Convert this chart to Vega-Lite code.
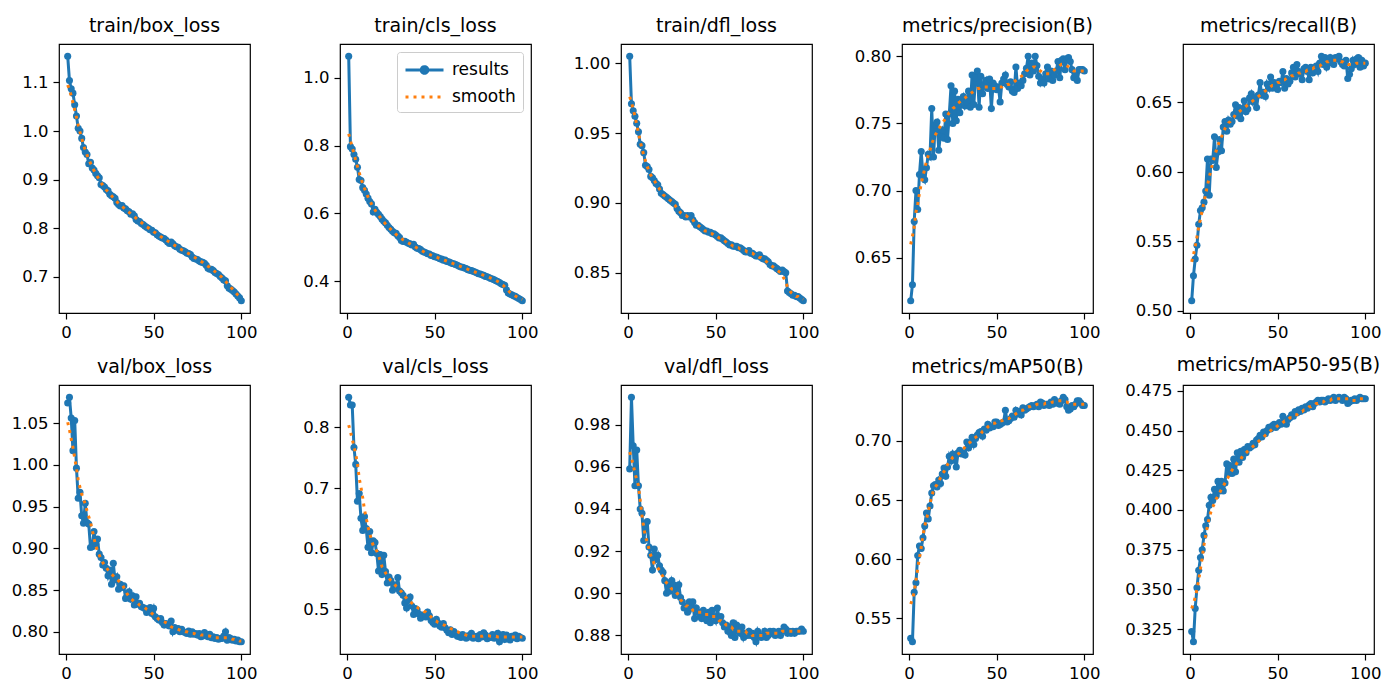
{
"$schema":"https://vega.github.io/schema/vega-lite/v6.json",
"background":"white",
"padding":{"left":10,"top":16,"right":5,"bottom":5},
"columns":5,
"spacing":{"row":72,"column":90},
"bounds":"flush",
"resolve":{"scale":{"color":"independent"},"legend":{"color":"independent"}},
"config":{
 "font":"DejaVu Sans",
 "view":{"stroke":"#000","strokeWidth":1.2},
 "axis":{"domain":false,"grid":false,"labelFont":"DejaVu Sans","labelFontSize":16.5,"labelColor":"#000","tickColor":"#000","tickSize":6,"tickWidth":1.2,"labelPadding":5,"labelFlush":false,"labelOverlap":false},
 "title":{"font":"DejaVu Sans","fontSize":19,"fontWeight":"normal","color":"#000","offset":8},
 "legend":{"labelFont":"DejaVu Sans","labelFontSize":17,"labelColor":"#000"}
},
"datasets":{
"a":[{"x":1,"r":1.154,"s":1.095},{"x":2,"r":1.104,"s":1.085},{"x":3,"r":1.087,"s":1.073},{"x":4,"r":1.078,"s":1.058},{"x":5,"r":1.054,"s":1.043},{"x":6,"r":1.031,"s":1.028},{"x":7,"r":1.006,"s":1.012},{"x":8,"r":1.000,"s":0.998},{"x":9,"r":0.985,"s":0.985},{"x":10,"r":0.966,"s":0.972},
{"x":11,"r":0.957,"s":0.961},{"x":12,"r":0.952,"s":0.951},{"x":13,"r":0.933,"s":0.942},{"x":14,"r":0.936,"s":0.934},{"x":15,"r":0.924,"s":0.926},{"x":16,"r":0.920,"s":0.919},{"x":17,"r":0.913,"s":0.912},{"x":18,"r":0.908,"s":0.906},{"x":19,"r":0.904,"s":0.900},{"x":20,"r":0.890,"s":0.894},
{"x":21,"r":0.888,"s":0.889},{"x":22,"r":0.885,"s":0.884},{"x":23,"r":0.880,"s":0.879},{"x":24,"r":0.877,"s":0.875},{"x":25,"r":0.870,"s":0.871},{"x":26,"r":0.867,"s":0.867},{"x":27,"r":0.865,"s":0.863},{"x":28,"r":0.862,"s":0.859},{"x":29,"r":0.853,"s":0.855},{"x":30,"r":0.849,"s":0.851},
{"x":31,"r":0.846,"s":0.848},{"x":32,"r":0.847,"s":0.845},{"x":33,"r":0.842,"s":0.842},{"x":34,"r":0.840,"s":0.839},{"x":35,"r":0.836,"s":0.836},{"x":36,"r":0.834,"s":0.833},{"x":37,"r":0.829,"s":0.830},{"x":38,"r":0.830,"s":0.827},{"x":39,"r":0.826,"s":0.824},{"x":40,"r":0.818,"s":0.821},
{"x":41,"r":0.815,"s":0.818},{"x":42,"r":0.814,"s":0.815},{"x":43,"r":0.810,"s":0.812},{"x":44,"r":0.808,"s":0.809},{"x":45,"r":0.805,"s":0.806},{"x":46,"r":0.802,"s":0.803},{"x":47,"r":0.800,"s":0.801},{"x":48,"r":0.797,"s":0.798},{"x":49,"r":0.796,"s":0.796},{"x":50,"r":0.792,"s":0.793},
{"x":51,"r":0.791,"s":0.791},{"x":52,"r":0.787,"s":0.788},{"x":53,"r":0.784,"s":0.786},{"x":54,"r":0.782,"s":0.783},{"x":55,"r":0.780,"s":0.781},{"x":56,"r":0.779,"s":0.779},{"x":57,"r":0.776,"s":0.776},{"x":58,"r":0.772,"s":0.774},{"x":59,"r":0.769,"s":0.772},{"x":60,"r":0.772,"s":0.770},
{"x":61,"r":0.768,"s":0.767},{"x":62,"r":0.764,"s":0.765},{"x":63,"r":0.762,"s":0.763},{"x":64,"r":0.761,"s":0.761},{"x":65,"r":0.757,"s":0.758},{"x":66,"r":0.755,"s":0.756},{"x":67,"r":0.754,"s":0.754},{"x":68,"r":0.752,"s":0.752},{"x":69,"r":0.749,"s":0.750},{"x":70,"r":0.748,"s":0.748},
{"x":71,"r":0.746,"s":0.746},{"x":72,"r":0.741,"s":0.743},{"x":73,"r":0.738,"s":0.741},{"x":74,"r":0.737,"s":0.739},{"x":75,"r":0.736,"s":0.737},{"x":76,"r":0.733,"s":0.734},{"x":77,"r":0.731,"s":0.732},{"x":78,"r":0.730,"s":0.730},{"x":79,"r":0.728,"s":0.727},{"x":80,"r":0.724,"s":0.725},
{"x":81,"r":0.718,"s":0.722},{"x":82,"r":0.716,"s":0.720},{"x":83,"r":0.716,"s":0.717},{"x":84,"r":0.713,"s":0.714},{"x":85,"r":0.709,"s":0.711},{"x":86,"r":0.707,"s":0.708},{"x":87,"r":0.705,"s":0.705},{"x":88,"r":0.701,"s":0.702},{"x":89,"r":0.698,"s":0.699},{"x":90,"r":0.694,"s":0.695},
{"x":91,"r":0.692,"s":0.691},{"x":92,"r":0.682,"s":0.687},{"x":93,"r":0.677,"s":0.683},{"x":94,"r":0.675,"s":0.679},{"x":95,"r":0.672,"s":0.675},{"x":96,"r":0.669,"s":0.671},{"x":97,"r":0.665,"s":0.667},{"x":98,"r":0.661,"s":0.663},{"x":99,"r":0.657,"s":0.660},{"x":100,"r":0.651,"s":0.657}],
"b":[{"x":1,"r":1.064,"s":0.835},{"x":2,"r":0.797,"s":0.815},{"x":3,"r":0.790,"s":0.795},{"x":4,"r":0.774,"s":0.776},{"x":5,"r":0.760,"s":0.757},{"x":6,"r":0.736,"s":0.738},{"x":7,"r":0.700,"s":0.720},{"x":8,"r":0.697,"s":0.703},{"x":9,"r":0.676,"s":0.688},{"x":10,"r":0.668,"s":0.674},
{"x":11,"r":0.657,"s":0.661},{"x":12,"r":0.645,"s":0.649},{"x":13,"r":0.635,"s":0.638},{"x":14,"r":0.628,"s":0.628},{"x":15,"r":0.604,"s":0.619},{"x":16,"r":0.612,"s":0.610},{"x":17,"r":0.603,"s":0.602},{"x":18,"r":0.597,"s":0.595},{"x":19,"r":0.591,"s":0.588},{"x":20,"r":0.583,"s":0.581},
{"x":21,"r":0.577,"s":0.575},{"x":22,"r":0.572,"s":0.569},{"x":23,"r":0.565,"s":0.563},{"x":24,"r":0.558,"s":0.558},{"x":25,"r":0.553,"s":0.553},{"x":26,"r":0.547,"s":0.548},{"x":27,"r":0.543,"s":0.543},{"x":28,"r":0.541,"s":0.538},{"x":29,"r":0.534,"s":0.534},{"x":30,"r":0.529,"s":0.530},
{"x":31,"r":0.520,"s":0.526},{"x":32,"r":0.517,"s":0.522},{"x":33,"r":0.518,"s":0.519},{"x":34,"r":0.515,"s":0.516},{"x":35,"r":0.512,"s":0.513},{"x":36,"r":0.510,"s":0.510},{"x":37,"r":0.507,"s":0.507},{"x":38,"r":0.509,"s":0.504},{"x":39,"r":0.501,"s":0.501},{"x":40,"r":0.497,"s":0.498},
{"x":41,"r":0.496,"s":0.495},{"x":42,"r":0.493,"s":0.492},{"x":43,"r":0.488,"s":0.489},{"x":44,"r":0.486,"s":0.486},{"x":45,"r":0.484,"s":0.483},{"x":46,"r":0.481,"s":0.481},{"x":47,"r":0.480,"s":0.479},{"x":48,"r":0.476,"s":0.477},{"x":49,"r":0.475,"s":0.475},{"x":50,"r":0.472,"s":0.473},
{"x":51,"r":0.471,"s":0.471},{"x":52,"r":0.469,"s":0.469},{"x":53,"r":0.466,"s":0.467},{"x":54,"r":0.465,"s":0.465},{"x":55,"r":0.462,"s":0.463},{"x":56,"r":0.462,"s":0.461},{"x":57,"r":0.458,"s":0.459},{"x":58,"r":0.457,"s":0.457},{"x":59,"r":0.455,"s":0.455},{"x":60,"r":0.452,"s":0.453},
{"x":61,"r":0.451,"s":0.451},{"x":62,"r":0.449,"s":0.449},{"x":63,"r":0.447,"s":0.447},{"x":64,"r":0.444,"s":0.445},{"x":65,"r":0.442,"s":0.443},{"x":66,"r":0.441,"s":0.441},{"x":67,"r":0.439,"s":0.439},{"x":68,"r":0.437,"s":0.437},{"x":69,"r":0.434,"s":0.435},{"x":70,"r":0.432,"s":0.433},
{"x":71,"r":0.431,"s":0.431},{"x":72,"r":0.429,"s":0.429},{"x":73,"r":0.427,"s":0.427},{"x":74,"r":0.425,"s":0.425},{"x":75,"r":0.422,"s":0.423},{"x":76,"r":0.421,"s":0.421},{"x":77,"r":0.419,"s":0.419},{"x":78,"r":0.417,"s":0.417},{"x":79,"r":0.414,"s":0.415},{"x":80,"r":0.413,"s":0.413},
{"x":81,"r":0.411,"s":0.411},{"x":82,"r":0.408,"s":0.409},{"x":83,"r":0.406,"s":0.407},{"x":84,"r":0.404,"s":0.404},{"x":85,"r":0.401,"s":0.402},{"x":86,"r":0.399,"s":0.399},{"x":87,"r":0.396,"s":0.396},{"x":88,"r":0.392,"s":0.392},{"x":89,"r":0.390,"s":0.388},{"x":90,"r":0.388,"s":0.383},
{"x":91,"r":0.374,"s":0.377},{"x":92,"r":0.365,"s":0.372},{"x":93,"r":0.362,"s":0.367},{"x":94,"r":0.360,"s":0.363},{"x":95,"r":0.357,"s":0.359},{"x":96,"r":0.355,"s":0.356},{"x":97,"r":0.352,"s":0.353},{"x":98,"r":0.349,"s":0.350},{"x":99,"r":0.346,"s":0.348},{"x":100,"r":0.342,"s":0.346}],
"c":[{"x":1,"r":1.005,"s":0.976},{"x":2,"r":0.971,"s":0.972},{"x":3,"r":0.966,"s":0.967},{"x":4,"r":0.962,"s":0.962},{"x":5,"r":0.957,"s":0.956},{"x":6,"r":0.951,"s":0.950},{"x":7,"r":0.942,"s":0.944},{"x":8,"r":0.941,"s":0.939},{"x":9,"r":0.936,"s":0.934},{"x":10,"r":0.927,"s":0.930},
{"x":11,"r":0.926,"s":0.926},{"x":12,"r":0.924,"s":0.923},{"x":13,"r":0.919,"s":0.920},{"x":14,"r":0.918,"s":0.918},{"x":15,"r":0.916,"s":0.916},{"x":16,"r":0.914,"s":0.914},{"x":17,"r":0.913,"s":0.912},{"x":18,"r":0.910,"s":0.910},{"x":19,"r":0.907,"s":0.908},{"x":20,"r":0.906,"s":0.906},
{"x":21,"r":0.905,"s":0.905},{"x":22,"r":0.904,"s":0.904},{"x":23,"r":0.903,"s":0.903},{"x":24,"r":0.902,"s":0.902},{"x":25,"r":0.901,"s":0.901},{"x":26,"r":0.900,"s":0.899},{"x":27,"r":0.899,"s":0.898},{"x":28,"r":0.896,"s":0.896},{"x":29,"r":0.894,"s":0.895},{"x":30,"r":0.893,"s":0.893},
{"x":31,"r":0.891,"s":0.892},{"x":32,"r":0.891,"s":0.891},{"x":33,"r":0.890,"s":0.891},{"x":34,"r":0.891,"s":0.890},{"x":35,"r":0.890,"s":0.889},{"x":36,"r":0.891,"s":0.889},{"x":37,"r":0.888,"s":0.888},{"x":38,"r":0.886,"s":0.886},{"x":39,"r":0.884,"s":0.885},{"x":40,"r":0.884,"s":0.884},
{"x":41,"r":0.883,"s":0.883},{"x":42,"r":0.882,"s":0.882},{"x":43,"r":0.881,"s":0.881},{"x":44,"r":0.880,"s":0.880},{"x":45,"r":0.880,"s":0.880},{"x":46,"r":0.879,"s":0.879},{"x":47,"r":0.879,"s":0.878},{"x":48,"r":0.878,"s":0.878},{"x":49,"r":0.878,"s":0.877},{"x":50,"r":0.877,"s":0.877},
{"x":51,"r":0.876,"s":0.876},{"x":52,"r":0.875,"s":0.875},{"x":53,"r":0.875,"s":0.875},{"x":54,"r":0.874,"s":0.874},{"x":55,"r":0.873,"s":0.873},{"x":56,"r":0.872,"s":0.872},{"x":57,"r":0.871,"s":0.871},{"x":58,"r":0.870,"s":0.871},{"x":59,"r":0.870,"s":0.870},{"x":60,"r":0.869,"s":0.869},
{"x":61,"r":0.869,"s":0.869},{"x":62,"r":0.869,"s":0.868},{"x":63,"r":0.868,"s":0.868},{"x":64,"r":0.868,"s":0.867},{"x":65,"r":0.867,"s":0.867},{"x":66,"r":0.866,"s":0.866},{"x":67,"r":0.865,"s":0.866},{"x":68,"r":0.865,"s":0.865},{"x":69,"r":0.866,"s":0.865},{"x":70,"r":0.864,"s":0.864},
{"x":71,"r":0.864,"s":0.864},{"x":72,"r":0.863,"s":0.863},{"x":73,"r":0.862,"s":0.862},{"x":74,"r":0.862,"s":0.862},{"x":75,"r":0.863,"s":0.861},{"x":76,"r":0.861,"s":0.861},{"x":77,"r":0.860,"s":0.860},{"x":78,"r":0.860,"s":0.859},{"x":79,"r":0.859,"s":0.858},{"x":80,"r":0.858,"s":0.857},
{"x":81,"r":0.856,"s":0.856},{"x":82,"r":0.855,"s":0.855},{"x":83,"r":0.855,"s":0.854},{"x":84,"r":0.854,"s":0.853},{"x":85,"r":0.853,"s":0.852},{"x":86,"r":0.852,"s":0.851},{"x":87,"r":0.851,"s":0.850},{"x":88,"r":0.852,"s":0.848},{"x":89,"r":0.851,"s":0.846},{"x":90,"r":0.850,"s":0.843},
{"x":91,"r":0.837,"s":0.840},{"x":92,"r":0.836,"s":0.838},{"x":93,"r":0.835,"s":0.836},{"x":94,"r":0.834,"s":0.835},{"x":95,"r":0.834,"s":0.834},{"x":96,"r":0.833,"s":0.833},{"x":97,"r":0.833,"s":0.833},{"x":98,"r":0.832,"s":0.832},{"x":99,"r":0.831,"s":0.832},{"x":100,"r":0.830,"s":0.831}],
"d":[{"x":1,"r":0.618,"s":0.660},{"x":2,"r":0.630,"s":0.666},{"x":3,"r":0.677,"s":0.673},{"x":4,"r":0.700,"s":0.684},{"x":5,"r":0.686,"s":0.690},{"x":6,"r":0.712,"s":0.698},{"x":7,"r":0.729,"s":0.705},{"x":8,"r":0.711,"s":0.711},{"x":9,"r":0.708,"s":0.716},{"x":10,"r":0.717,"s":0.722},
{"x":11,"r":0.727,"s":0.726},{"x":12,"r":0.725,"s":0.730},{"x":13,"r":0.761,"s":0.735},{"x":14,"r":0.725,"s":0.738},{"x":15,"r":0.749,"s":0.741},{"x":16,"r":0.751,"s":0.744},{"x":17,"r":0.730,"s":0.746},{"x":18,"r":0.742,"s":0.748},{"x":19,"r":0.745,"s":0.750},{"x":20,"r":0.739,"s":0.752},
{"x":21,"r":0.757,"s":0.754},{"x":22,"r":0.738,"s":0.756},{"x":23,"r":0.757,"s":0.758},{"x":24,"r":0.778,"s":0.759},{"x":25,"r":0.750,"s":0.761},{"x":26,"r":0.774,"s":0.762},{"x":27,"r":0.752,"s":0.763},{"x":28,"r":0.768,"s":0.765},{"x":29,"r":0.758,"s":0.766},{"x":30,"r":0.767,"s":0.767},
{"x":31,"r":0.770,"s":0.768},{"x":32,"r":0.763,"s":0.769},{"x":33,"r":0.766,"s":0.770},{"x":34,"r":0.774,"s":0.771},{"x":35,"r":0.762,"s":0.772},{"x":36,"r":0.786,"s":0.773},{"x":37,"r":0.764,"s":0.774},{"x":38,"r":0.784,"s":0.775},{"x":39,"r":0.789,"s":0.776},{"x":40,"r":0.762,"s":0.776},
{"x":41,"r":0.785,"s":0.777},{"x":42,"r":0.772,"s":0.777},{"x":43,"r":0.779,"s":0.777},{"x":44,"r":0.782,"s":0.777},{"x":45,"r":0.776,"s":0.777},{"x":46,"r":0.783,"s":0.776},{"x":47,"r":0.761,"s":0.776},{"x":48,"r":0.780,"s":0.776},{"x":49,"r":0.778,"s":0.776},{"x":50,"r":0.775,"s":0.776},
{"x":51,"r":0.777,"s":0.777},{"x":52,"r":0.766,"s":0.777},{"x":53,"r":0.780,"s":0.777},{"x":54,"r":0.783,"s":0.778},{"x":55,"r":0.786,"s":0.778},{"x":56,"r":0.779,"s":0.779},{"x":57,"r":0.777,"s":0.779},{"x":58,"r":0.781,"s":0.780},{"x":59,"r":0.774,"s":0.780},{"x":60,"r":0.773,"s":0.781},
{"x":61,"r":0.792,"s":0.782},{"x":62,"r":0.776,"s":0.783},{"x":63,"r":0.780,"s":0.784},{"x":64,"r":0.778,"s":0.785},{"x":65,"r":0.782,"s":0.786},{"x":66,"r":0.787,"s":0.787},{"x":67,"r":0.791,"s":0.789},{"x":68,"r":0.800,"s":0.790},{"x":69,"r":0.786,"s":0.791},{"x":70,"r":0.795,"s":0.791},
{"x":71,"r":0.789,"s":0.792},{"x":72,"r":0.800,"s":0.792},{"x":73,"r":0.793,"s":0.791},{"x":74,"r":0.785,"s":0.790},{"x":75,"r":0.780,"s":0.789},{"x":76,"r":0.783,"s":0.788},{"x":77,"r":0.780,"s":0.787},{"x":78,"r":0.787,"s":0.787},{"x":79,"r":0.792,"s":0.787},{"x":80,"r":0.783,"s":0.787},
{"x":81,"r":0.789,"s":0.788},{"x":82,"r":0.782,"s":0.789},{"x":83,"r":0.786,"s":0.790},{"x":84,"r":0.789,"s":0.791},{"x":85,"r":0.796,"s":0.792},{"x":86,"r":0.784,"s":0.793},{"x":87,"r":0.797,"s":0.794},{"x":88,"r":0.798,"s":0.794},{"x":89,"r":0.790,"s":0.794},{"x":90,"r":0.798,"s":0.793},
{"x":91,"r":0.799,"s":0.792},{"x":92,"r":0.796,"s":0.791},{"x":93,"r":0.790,"s":0.790},{"x":94,"r":0.784,"s":0.789},{"x":95,"r":0.786,"s":0.789},{"x":96,"r":0.782,"s":0.789},{"x":97,"r":0.790,"s":0.789},{"x":98,"r":0.790,"s":0.789},{"x":99,"r":0.790,"s":0.789},{"x":100,"r":0.789,"s":0.789}],
"e":[{"x":1,"r":0.507,"s":0.535},{"x":2,"r":0.525,"s":0.540},{"x":3,"r":0.537,"s":0.546},{"x":4,"r":0.547,"s":0.553},{"x":5,"r":0.562,"s":0.560},{"x":6,"r":0.572,"s":0.566},{"x":7,"r":0.574,"s":0.572},{"x":8,"r":0.578,"s":0.578},{"x":9,"r":0.586,"s":0.584},{"x":10,"r":0.609,"s":0.590},
{"x":11,"r":0.583,"s":0.596},{"x":12,"r":0.609,"s":0.601},{"x":13,"r":0.608,"s":0.606},{"x":14,"r":0.625,"s":0.611},{"x":15,"r":0.603,"s":0.615},{"x":16,"r":0.614,"s":0.619},{"x":17,"r":0.623,"s":0.622},{"x":18,"r":0.615,"s":0.625},{"x":19,"r":0.632,"s":0.628},{"x":20,"r":0.636,"s":0.631},
{"x":21,"r":0.629,"s":0.633},{"x":22,"r":0.637,"s":0.635},{"x":23,"r":0.634,"s":0.636},{"x":24,"r":0.636,"s":0.638},{"x":25,"r":0.641,"s":0.639},{"x":26,"r":0.648,"s":0.641},{"x":27,"r":0.640,"s":0.642},{"x":28,"r":0.646,"s":0.643},{"x":29,"r":0.638,"s":0.644},{"x":30,"r":0.644,"s":0.645},
{"x":31,"r":0.651,"s":0.646},{"x":32,"r":0.643,"s":0.647},{"x":33,"r":0.645,"s":0.648},{"x":34,"r":0.653,"s":0.649},{"x":35,"r":0.656,"s":0.650},{"x":36,"r":0.650,"s":0.651},{"x":37,"r":0.653,"s":0.652},{"x":38,"r":0.646,"s":0.653},{"x":39,"r":0.655,"s":0.654},{"x":40,"r":0.664,"s":0.655},
{"x":41,"r":0.655,"s":0.656},{"x":42,"r":0.657,"s":0.657},{"x":43,"r":0.654,"s":0.658},{"x":44,"r":0.663,"s":0.659},{"x":45,"r":0.660,"s":0.660},{"x":46,"r":0.668,"s":0.661},{"x":47,"r":0.660,"s":0.662},{"x":48,"r":0.664,"s":0.662},{"x":49,"r":0.661,"s":0.663},{"x":50,"r":0.659,"s":0.664},
{"x":51,"r":0.665,"s":0.664},{"x":52,"r":0.664,"s":0.665},{"x":53,"r":0.672,"s":0.666},{"x":54,"r":0.660,"s":0.666},{"x":55,"r":0.667,"s":0.667},{"x":56,"r":0.663,"s":0.668},{"x":57,"r":0.665,"s":0.668},{"x":58,"r":0.671,"s":0.669},{"x":59,"r":0.675,"s":0.669},{"x":60,"r":0.668,"s":0.670},
{"x":61,"r":0.677,"s":0.670},{"x":62,"r":0.672,"s":0.671},{"x":63,"r":0.670,"s":0.671},{"x":64,"r":0.666,"s":0.672},{"x":65,"r":0.674,"s":0.672},{"x":66,"r":0.675,"s":0.672},{"x":67,"r":0.672,"s":0.673},{"x":68,"r":0.666,"s":0.673},{"x":69,"r":0.675,"s":0.674},{"x":70,"r":0.671,"s":0.674},
{"x":71,"r":0.673,"s":0.675},{"x":72,"r":0.676,"s":0.675},{"x":73,"r":0.672,"s":0.676},{"x":74,"r":0.678,"s":0.676},{"x":75,"r":0.683,"s":0.677},{"x":76,"r":0.677,"s":0.678},{"x":77,"r":0.682,"s":0.678},{"x":78,"r":0.675,"s":0.679},{"x":79,"r":0.678,"s":0.679},{"x":80,"r":0.682,"s":0.680},
{"x":81,"r":0.679,"s":0.680},{"x":82,"r":0.677,"s":0.680},{"x":83,"r":0.682,"s":0.680},{"x":84,"r":0.681,"s":0.680},{"x":85,"r":0.683,"s":0.680},{"x":86,"r":0.679,"s":0.679},{"x":87,"r":0.677,"s":0.679},{"x":88,"r":0.676,"s":0.678},{"x":89,"r":0.680,"s":0.678},{"x":90,"r":0.667,"s":0.677},
{"x":91,"r":0.670,"s":0.677},{"x":92,"r":0.674,"s":0.677},{"x":93,"r":0.680,"s":0.677},{"x":94,"r":0.677,"s":0.677},{"x":95,"r":0.681,"s":0.678},{"x":96,"r":0.682,"s":0.678},{"x":97,"r":0.675,"s":0.678},{"x":98,"r":0.680,"s":0.678},{"x":99,"r":0.676,"s":0.678},{"x":100,"r":0.678,"s":0.678}],
"f":[{"x":1,"r":1.074,"s":1.051},{"x":2,"r":1.081,"s":1.042},{"x":3,"r":1.056,"s":1.031},{"x":4,"r":1.017,"s":1.021},{"x":5,"r":1.053,"s":1.008},{"x":6,"r":0.996,"s":0.996},{"x":7,"r":0.960,"s":0.982},{"x":8,"r":0.967,"s":0.973},{"x":9,"r":0.939,"s":0.965},{"x":10,"r":0.930,"s":0.959},
{"x":11,"r":0.954,"s":0.953},{"x":12,"r":0.931,"s":0.945},{"x":13,"r":0.929,"s":0.938},{"x":14,"r":0.901,"s":0.931},{"x":15,"r":0.902,"s":0.922},{"x":16,"r":0.920,"s":0.912},{"x":17,"r":0.905,"s":0.903},{"x":18,"r":0.911,"s":0.897},{"x":19,"r":0.893,"s":0.892},{"x":20,"r":0.889,"s":0.887},
{"x":21,"r":0.880,"s":0.883},{"x":22,"r":0.883,"s":0.880},{"x":23,"r":0.876,"s":0.877},{"x":24,"r":0.867,"s":0.874},{"x":25,"r":0.874,"s":0.871},{"x":26,"r":0.857,"s":0.869},{"x":27,"r":0.882,"s":0.867},{"x":28,"r":0.862,"s":0.865},{"x":29,"r":0.866,"s":0.863},{"x":30,"r":0.851,"s":0.861},
{"x":31,"r":0.857,"s":0.859},{"x":32,"r":0.853,"s":0.857},{"x":33,"r":0.855,"s":0.853},{"x":34,"r":0.840,"s":0.849},{"x":35,"r":0.843,"s":0.845},{"x":36,"r":0.848,"s":0.842},{"x":37,"r":0.839,"s":0.840},{"x":38,"r":0.843,"s":0.838},{"x":39,"r":0.832,"s":0.836},{"x":40,"r":0.842,"s":0.835},
{"x":41,"r":0.833,"s":0.834},{"x":42,"r":0.834,"s":0.832},{"x":43,"r":0.830,"s":0.831},{"x":44,"r":0.829,"s":0.830},{"x":45,"r":0.828,"s":0.829},{"x":46,"r":0.823,"s":0.827},{"x":47,"r":0.826,"s":0.826},{"x":48,"r":0.829,"s":0.824},{"x":49,"r":0.822,"s":0.822},{"x":50,"r":0.828,"s":0.820},
{"x":51,"r":0.818,"s":0.818},{"x":52,"r":0.816,"s":0.817},{"x":53,"r":0.814,"s":0.815},{"x":54,"r":0.816,"s":0.814},{"x":55,"r":0.811,"s":0.813},{"x":56,"r":0.808,"s":0.812},{"x":57,"r":0.810,"s":0.811},{"x":58,"r":0.808,"s":0.810},{"x":59,"r":0.807,"s":0.808},{"x":60,"r":0.813,"s":0.806},
{"x":61,"r":0.800,"s":0.805},{"x":62,"r":0.805,"s":0.804},{"x":63,"r":0.802,"s":0.804},{"x":64,"r":0.804,"s":0.803},{"x":65,"r":0.800,"s":0.802},{"x":66,"r":0.803,"s":0.801},{"x":67,"r":0.800,"s":0.801},{"x":68,"r":0.799,"s":0.800},{"x":69,"r":0.798,"s":0.800},{"x":70,"r":0.801,"s":0.799},
{"x":71,"r":0.797,"s":0.799},{"x":72,"r":0.800,"s":0.798},{"x":73,"r":0.797,"s":0.798},{"x":74,"r":0.798,"s":0.797},{"x":75,"r":0.796,"s":0.797},{"x":76,"r":0.798,"s":0.797},{"x":77,"r":0.794,"s":0.796},{"x":78,"r":0.795,"s":0.796},{"x":79,"r":0.799,"s":0.796},{"x":80,"r":0.796,"s":0.795},
{"x":81,"r":0.794,"s":0.795},{"x":82,"r":0.797,"s":0.795},{"x":83,"r":0.793,"s":0.794},{"x":84,"r":0.794,"s":0.794},{"x":85,"r":0.792,"s":0.793},{"x":86,"r":0.793,"s":0.793},{"x":87,"r":0.791,"s":0.793},{"x":88,"r":0.792,"s":0.793},{"x":89,"r":0.792,"s":0.793},{"x":90,"r":0.795,"s":0.793},
{"x":91,"r":0.800,"s":0.793},{"x":92,"r":0.790,"s":0.793},{"x":93,"r":0.793,"s":0.792},{"x":94,"r":0.792,"s":0.792},{"x":95,"r":0.790,"s":0.791},{"x":96,"r":0.791,"s":0.791},{"x":97,"r":0.789,"s":0.790},{"x":98,"r":0.790,"s":0.790},{"x":99,"r":0.788,"s":0.789},{"x":100,"r":0.788,"s":0.789}],
"g":[{"x":1,"r":0.850,"s":0.804},{"x":2,"r":0.837,"s":0.793},{"x":3,"r":0.837,"s":0.781},{"x":4,"r":0.767,"s":0.769},{"x":5,"r":0.739,"s":0.756},{"x":6,"r":0.678,"s":0.740},{"x":7,"r":0.691,"s":0.716},{"x":8,"r":0.650,"s":0.701},{"x":9,"r":0.630,"s":0.684},{"x":10,"r":0.653,"s":0.664},
{"x":11,"r":0.633,"s":0.650},{"x":12,"r":0.602,"s":0.636},{"x":13,"r":0.628,"s":0.625},{"x":14,"r":0.593,"s":0.614},{"x":15,"r":0.613,"s":0.605},{"x":16,"r":0.610,"s":0.600},{"x":17,"r":0.592,"s":0.596},{"x":18,"r":0.563,"s":0.589},{"x":19,"r":0.590,"s":0.580},{"x":20,"r":0.557,"s":0.570},
{"x":21,"r":0.589,"s":0.565},{"x":22,"r":0.562,"s":0.560},{"x":23,"r":0.543,"s":0.555},{"x":24,"r":0.553,"s":0.551},{"x":25,"r":0.547,"s":0.547},{"x":26,"r":0.531,"s":0.544},{"x":27,"r":0.540,"s":0.541},{"x":28,"r":0.535,"s":0.538},{"x":29,"r":0.552,"s":0.536},{"x":30,"r":0.530,"s":0.532},
{"x":31,"r":0.527,"s":0.529},{"x":32,"r":0.523,"s":0.525},{"x":33,"r":0.510,"s":0.521},{"x":34,"r":0.502,"s":0.518},{"x":35,"r":0.515,"s":0.514},{"x":36,"r":0.520,"s":0.512},{"x":37,"r":0.505,"s":0.510},{"x":38,"r":0.491,"s":0.507},{"x":39,"r":0.501,"s":0.505},{"x":40,"r":0.499,"s":0.503},
{"x":41,"r":0.492,"s":0.501},{"x":42,"r":0.485,"s":0.500},{"x":43,"r":0.490,"s":0.498},{"x":44,"r":0.488,"s":0.496},{"x":45,"r":0.487,"s":0.495},{"x":46,"r":0.495,"s":0.492},{"x":47,"r":0.489,"s":0.490},{"x":48,"r":0.481,"s":0.487},{"x":49,"r":0.478,"s":0.484},{"x":50,"r":0.475,"s":0.481},
{"x":51,"r":0.483,"s":0.480},{"x":52,"r":0.477,"s":0.478},{"x":53,"r":0.472,"s":0.477},{"x":54,"r":0.470,"s":0.475},{"x":55,"r":0.476,"s":0.474},{"x":56,"r":0.469,"s":0.473},{"x":57,"r":0.465,"s":0.471},{"x":58,"r":0.461,"s":0.470},{"x":59,"r":0.466,"s":0.468},{"x":60,"r":0.458,"s":0.467},
{"x":61,"r":0.463,"s":0.466},{"x":62,"r":0.459,"s":0.464},{"x":63,"r":0.455,"s":0.463},{"x":64,"r":0.457,"s":0.461},{"x":65,"r":0.453,"s":0.460},{"x":66,"r":0.458,"s":0.459},{"x":67,"r":0.455,"s":0.458},{"x":68,"r":0.452,"s":0.457},{"x":69,"r":0.456,"s":0.456},{"x":70,"r":0.454,"s":0.455},
{"x":71,"r":0.460,"s":0.455},{"x":72,"r":0.452,"s":0.455},{"x":73,"r":0.453,"s":0.455},{"x":74,"r":0.455,"s":0.455},{"x":75,"r":0.451,"s":0.455},{"x":76,"r":0.458,"s":0.455},{"x":77,"r":0.454,"s":0.455},{"x":78,"r":0.461,"s":0.456},{"x":79,"r":0.457,"s":0.456},{"x":80,"r":0.451,"s":0.456},
{"x":81,"r":0.454,"s":0.456},{"x":82,"r":0.453,"s":0.455},{"x":83,"r":0.458,"s":0.455},{"x":84,"r":0.452,"s":0.455},{"x":85,"r":0.455,"s":0.455},{"x":86,"r":0.460,"s":0.454},{"x":87,"r":0.446,"s":0.454},{"x":88,"r":0.452,"s":0.454},{"x":89,"r":0.458,"s":0.454},{"x":90,"r":0.450,"s":0.454},
{"x":91,"r":0.457,"s":0.454},{"x":92,"r":0.454,"s":0.454},{"x":93,"r":0.449,"s":0.454},{"x":94,"r":0.455,"s":0.454},{"x":95,"r":0.453,"s":0.454},{"x":96,"r":0.457,"s":0.454},{"x":97,"r":0.451,"s":0.454},{"x":98,"r":0.455,"s":0.454},{"x":99,"r":0.453,"s":0.454},{"x":100,"r":0.452,"s":0.454}],
"h":[{"x":1,"r":0.959,"s":0.967},{"x":2,"r":0.993,"s":0.964},{"x":3,"r":0.970,"s":0.961},{"x":4,"r":0.951,"s":0.957},{"x":5,"r":0.968,"s":0.954},{"x":6,"r":0.951,"s":0.951},{"x":7,"r":0.940,"s":0.944},{"x":8,"r":0.938,"s":0.937},{"x":9,"r":0.925,"s":0.931},{"x":10,"r":0.931,"s":0.927},
{"x":11,"r":0.934,"s":0.924},{"x":12,"r":0.922,"s":0.921},{"x":13,"r":0.918,"s":0.918},{"x":14,"r":0.911,"s":0.916},{"x":15,"r":0.921,"s":0.914},{"x":16,"r":0.916,"s":0.913},{"x":17,"r":0.918,"s":0.912},{"x":18,"r":0.913,"s":0.911},{"x":19,"r":0.911,"s":0.909},{"x":20,"r":0.910,"s":0.908},
{"x":21,"r":0.906,"s":0.906},{"x":22,"r":0.900,"s":0.905},{"x":23,"r":0.905,"s":0.904},{"x":24,"r":0.901,"s":0.903},{"x":25,"r":0.906,"s":0.902},{"x":26,"r":0.904,"s":0.902},{"x":27,"r":0.899,"s":0.901},{"x":28,"r":0.902,"s":0.900},{"x":29,"r":0.904,"s":0.899},{"x":30,"r":0.898,"s":0.897},
{"x":31,"r":0.896,"s":0.896},{"x":32,"r":0.893,"s":0.895},{"x":33,"r":0.894,"s":0.894},{"x":34,"r":0.891,"s":0.894},{"x":35,"r":0.896,"s":0.893},{"x":36,"r":0.893,"s":0.893},{"x":37,"r":0.896,"s":0.892},{"x":38,"r":0.888,"s":0.892},{"x":39,"r":0.893,"s":0.892},{"x":40,"r":0.891,"s":0.891},
{"x":41,"r":0.889,"s":0.891},{"x":42,"r":0.888,"s":0.891},{"x":43,"r":0.892,"s":0.890},{"x":44,"r":0.888,"s":0.890},{"x":45,"r":0.887,"s":0.890},{"x":46,"r":0.891,"s":0.890},{"x":47,"r":0.886,"s":0.889},{"x":48,"r":0.892,"s":0.889},{"x":49,"r":0.889,"s":0.889},{"x":50,"r":0.887,"s":0.889},
{"x":51,"r":0.893,"s":0.888},{"x":52,"r":0.888,"s":0.887},{"x":53,"r":0.889,"s":0.887},{"x":54,"r":0.886,"s":0.886},{"x":55,"r":0.884,"s":0.886},{"x":56,"r":0.885,"s":0.885},{"x":57,"r":0.882,"s":0.885},{"x":58,"r":0.884,"s":0.884},{"x":59,"r":0.880,"s":0.884},{"x":60,"r":0.886,"s":0.883},
{"x":61,"r":0.879,"s":0.883},{"x":62,"r":0.885,"s":0.882},{"x":63,"r":0.883,"s":0.882},{"x":64,"r":0.881,"s":0.882},{"x":65,"r":0.884,"s":0.882},{"x":66,"r":0.879,"s":0.882},{"x":67,"r":0.881,"s":0.882},{"x":68,"r":0.880,"s":0.881},{"x":69,"r":0.882,"s":0.881},{"x":70,"r":0.880,"s":0.881},
{"x":71,"r":0.881,"s":0.880},{"x":72,"r":0.879,"s":0.880},{"x":73,"r":0.877,"s":0.880},{"x":74,"r":0.882,"s":0.880},{"x":75,"r":0.880,"s":0.880},{"x":76,"r":0.879,"s":0.880},{"x":77,"r":0.880,"s":0.880},{"x":78,"r":0.882,"s":0.880},{"x":79,"r":0.879,"s":0.881},{"x":80,"r":0.880,"s":0.881},
{"x":81,"r":0.882,"s":0.881},{"x":82,"r":0.881,"s":0.881},{"x":83,"r":0.882,"s":0.881},{"x":84,"r":0.880,"s":0.881},{"x":85,"r":0.881,"s":0.881},{"x":86,"r":0.882,"s":0.881},{"x":87,"r":0.880,"s":0.881},{"x":88,"r":0.882,"s":0.882},{"x":89,"r":0.884,"s":0.882},{"x":90,"r":0.883,"s":0.882},
{"x":91,"r":0.881,"s":0.882},{"x":92,"r":0.882,"s":0.882},{"x":93,"r":0.881,"s":0.882},{"x":94,"r":0.882,"s":0.882},{"x":95,"r":0.881,"s":0.882},{"x":96,"r":0.882,"s":0.882},{"x":97,"r":0.882,"s":0.882},{"x":98,"r":0.882,"s":0.882},{"x":99,"r":0.883,"s":0.882},{"x":100,"r":0.882,"s":0.882}],
"i":[{"x":1,"r":0.533,"s":0.562},{"x":2,"r":0.530,"s":0.566},{"x":3,"r":0.572,"s":0.572},{"x":4,"r":0.580,"s":0.582},{"x":5,"r":0.603,"s":0.592},{"x":6,"r":0.611,"s":0.601},{"x":7,"r":0.609,"s":0.610},{"x":8,"r":0.618,"s":0.620},{"x":9,"r":0.628,"s":0.628},{"x":10,"r":0.639,"s":0.634},
{"x":11,"r":0.634,"s":0.640},{"x":12,"r":0.645,"s":0.647},{"x":13,"r":0.656,"s":0.653},{"x":14,"r":0.662,"s":0.658},{"x":15,"r":0.663,"s":0.661},{"x":16,"r":0.661,"s":0.663},{"x":17,"r":0.667,"s":0.666},{"x":18,"r":0.664,"s":0.669},{"x":19,"r":0.672,"s":0.672},{"x":20,"r":0.677,"s":0.674},
{"x":21,"r":0.670,"s":0.677},{"x":22,"r":0.678,"s":0.680},{"x":23,"r":0.687,"s":0.682},{"x":24,"r":0.683,"s":0.684},{"x":25,"r":0.689,"s":0.686},{"x":26,"r":0.685,"s":0.687},{"x":27,"r":0.678,"s":0.688},{"x":28,"r":0.690,"s":0.689},{"x":29,"r":0.692,"s":0.690},{"x":30,"r":0.689,"s":0.692},
{"x":31,"r":0.690,"s":0.693},{"x":32,"r":0.688,"s":0.695},{"x":33,"r":0.699,"s":0.697},{"x":34,"r":0.694,"s":0.698},{"x":35,"r":0.697,"s":0.699},{"x":36,"r":0.703,"s":0.701},{"x":37,"r":0.697,"s":0.702},{"x":38,"r":0.702,"s":0.703},{"x":39,"r":0.705,"s":0.704},{"x":40,"r":0.707,"s":0.705},
{"x":41,"r":0.708,"s":0.706},{"x":42,"r":0.704,"s":0.708},{"x":43,"r":0.710,"s":0.709},{"x":44,"r":0.709,"s":0.710},{"x":45,"r":0.714,"s":0.712},{"x":46,"r":0.711,"s":0.713},{"x":47,"r":0.712,"s":0.714},{"x":48,"r":0.712,"s":0.715},{"x":49,"r":0.716,"s":0.715},{"x":50,"r":0.716,"s":0.716},
{"x":51,"r":0.713,"s":0.716},{"x":52,"r":0.714,"s":0.717},{"x":53,"r":0.715,"s":0.717},{"x":54,"r":0.716,"s":0.718},{"x":55,"r":0.726,"s":0.718},{"x":56,"r":0.716,"s":0.719},{"x":57,"r":0.717,"s":0.719},{"x":58,"r":0.719,"s":0.720},{"x":59,"r":0.721,"s":0.721},{"x":60,"r":0.720,"s":0.722},
{"x":61,"r":0.726,"s":0.723},{"x":62,"r":0.723,"s":0.724},{"x":63,"r":0.725,"s":0.725},{"x":64,"r":0.722,"s":0.726},{"x":65,"r":0.728,"s":0.726},{"x":66,"r":0.726,"s":0.727},{"x":67,"r":0.727,"s":0.728},{"x":68,"r":0.728,"s":0.729},{"x":69,"r":0.729,"s":0.729},{"x":70,"r":0.730,"s":0.730},
{"x":71,"r":0.729,"s":0.730},{"x":72,"r":0.730,"s":0.730},{"x":73,"r":0.731,"s":0.731},{"x":74,"r":0.729,"s":0.731},{"x":75,"r":0.733,"s":0.731},{"x":76,"r":0.732,"s":0.731},{"x":77,"r":0.730,"s":0.731},{"x":78,"r":0.731,"s":0.732},{"x":79,"r":0.731,"s":0.732},{"x":80,"r":0.730,"s":0.732},
{"x":81,"r":0.733,"s":0.732},{"x":82,"r":0.731,"s":0.733},{"x":83,"r":0.735,"s":0.733},{"x":84,"r":0.732,"s":0.733},{"x":85,"r":0.733,"s":0.734},{"x":86,"r":0.731,"s":0.734},{"x":87,"r":0.734,"s":0.734},{"x":88,"r":0.737,"s":0.734},{"x":89,"r":0.735,"s":0.733},{"x":90,"r":0.729,"s":0.733},
{"x":91,"r":0.726,"s":0.732},{"x":92,"r":0.727,"s":0.732},{"x":93,"r":0.730,"s":0.731},{"x":94,"r":0.729,"s":0.731},{"x":95,"r":0.731,"s":0.731},{"x":96,"r":0.734,"s":0.731},{"x":97,"r":0.734,"s":0.731},{"x":98,"r":0.732,"s":0.731},{"x":99,"r":0.730,"s":0.731},{"x":100,"r":0.730,"s":0.731}],
"j":[{"x":1,"r":0.3235,"s":0.338},{"x":2,"r":0.317,"s":0.341},{"x":3,"r":0.338,"s":0.345},{"x":4,"r":0.351,"s":0.350},{"x":5,"r":0.362,"s":0.356},{"x":6,"r":0.370,"s":0.363},{"x":7,"r":0.375,"s":0.370},{"x":8,"r":0.384,"s":0.378},{"x":9,"r":0.390,"s":0.384},{"x":10,"r":0.394,"s":0.390},
{"x":11,"r":0.403,"s":0.395},{"x":12,"r":0.408,"s":0.399},{"x":13,"r":0.406,"s":0.402},{"x":14,"r":0.413,"s":0.404},{"x":15,"r":0.409,"s":0.407},{"x":16,"r":0.418,"s":0.409},{"x":17,"r":0.412,"s":0.411},{"x":18,"r":0.418,"s":0.413},{"x":19,"r":0.412,"s":0.415},{"x":20,"r":0.417,"s":0.417},
{"x":21,"r":0.429,"s":0.419},{"x":22,"r":0.423,"s":0.421},{"x":23,"r":0.428,"s":0.423},{"x":24,"r":0.423,"s":0.425},{"x":25,"r":0.432,"s":0.427},{"x":26,"r":0.424,"s":0.428},{"x":27,"r":0.436,"s":0.430},{"x":28,"r":0.430,"s":0.431},{"x":29,"r":0.437,"s":0.432},{"x":30,"r":0.433,"s":0.434},
{"x":31,"r":0.438,"s":0.435},{"x":32,"r":0.436,"s":0.436},{"x":33,"r":0.440,"s":0.437},{"x":34,"r":0.439,"s":0.438},{"x":35,"r":0.440,"s":0.439},{"x":36,"r":0.442,"s":0.440},{"x":37,"r":0.441,"s":0.441},{"x":38,"r":0.444,"s":0.442},{"x":39,"r":0.445,"s":0.443},{"x":40,"r":0.447,"s":0.444},
{"x":41,"r":0.446,"s":0.445},{"x":42,"r":0.449,"s":0.446},{"x":43,"r":0.448,"s":0.447},{"x":44,"r":0.450,"s":0.448},{"x":45,"r":0.452,"s":0.449},{"x":46,"r":0.451,"s":0.450},{"x":47,"r":0.453,"s":0.451},{"x":48,"r":0.454,"s":0.452},{"x":49,"r":0.452,"s":0.452},{"x":50,"r":0.453,"s":0.453},
{"x":51,"r":0.455,"s":0.454},{"x":52,"r":0.454,"s":0.454},{"x":53,"r":0.459,"s":0.455},{"x":54,"r":0.455,"s":0.456},{"x":55,"r":0.454,"s":0.456},{"x":56,"r":0.457,"s":0.457},{"x":57,"r":0.458,"s":0.458},{"x":58,"r":0.460,"s":0.458},{"x":59,"r":0.459,"s":0.459},{"x":60,"r":0.462,"s":0.460},
{"x":61,"r":0.461,"s":0.460},{"x":62,"r":0.463,"s":0.461},{"x":63,"r":0.462,"s":0.462},{"x":64,"r":0.464,"s":0.462},{"x":65,"r":0.463,"s":0.463},{"x":66,"r":0.465,"s":0.463},{"x":67,"r":0.464,"s":0.464},{"x":68,"r":0.466,"s":0.465},{"x":69,"r":0.467,"s":0.465},{"x":70,"r":0.465,"s":0.466},
{"x":71,"r":0.467,"s":0.466},{"x":72,"r":0.468,"s":0.467},{"x":73,"r":0.469,"s":0.467},{"x":74,"r":0.468,"s":0.468},{"x":75,"r":0.469,"s":0.468},{"x":76,"r":0.469,"s":0.468},{"x":77,"r":0.468,"s":0.469},{"x":78,"r":0.469,"s":0.469},{"x":79,"r":0.470,"s":0.469},{"x":80,"r":0.469,"s":0.469},
{"x":81,"r":0.470,"s":0.470},{"x":82,"r":0.471,"s":0.470},{"x":83,"r":0.469,"s":0.470},{"x":84,"r":0.470,"s":0.470},{"x":85,"r":0.471,"s":0.470},{"x":86,"r":0.470,"s":0.470},{"x":87,"r":0.469,"s":0.470},{"x":88,"r":0.471,"s":0.470},{"x":89,"r":0.470,"s":0.470},{"x":90,"r":0.467,"s":0.470},
{"x":91,"r":0.468,"s":0.470},{"x":92,"r":0.469,"s":0.469},{"x":93,"r":0.469,"s":0.469},{"x":94,"r":0.470,"s":0.469},{"x":95,"r":0.469,"s":0.469},{"x":96,"r":0.470,"s":0.470},{"x":97,"r":0.471,"s":0.470},{"x":98,"r":0.470,"s":0.470},{"x":99,"r":0.470,"s":0.470},{"x":100,"r":0.470,"s":0.470}]
},
"concat":[
{"data":{"name":"a"},"title":"train/box_loss","width":191,"height":269,
 "encoding":{"x":{"field":"x","type":"quantitative","title":null,"scale":{"nice":false,"zero":false,"padding":8.7},"axis":{"values":[0,50,100],"format":"d"}}},
 "layer":[
  {"mark":{"type":"line","color":"#1f77b4","strokeWidth":3,"point":{"filled":true,"size":50,"color":"#1f77b4"}},"encoding":{"y":{"field":"r","type":"quantitative","title":null,"scale":{"nice":false,"zero":false,"padding":12.2},"axis":{"values":[0.7,0.8,0.9,1.0,1.1],"format":".1f"}}}},
  {"mark":{"type":"line","color":"#ff7f0e","strokeWidth":3,"strokeDash":[3,5]},"encoding":{"y":{"field":"s","type":"quantitative","title":null}}}
 ]},
{"data":{"name":"b"},"title":"train/cls_loss","width":191,"height":269,
 "encoding":{"x":{"field":"x","type":"quantitative","title":null,"scale":{"nice":false,"zero":false,"padding":8.7},"axis":{"values":[0,50,100],"format":"d"}}},
 "layer":[
  {"mark":{"type":"line","strokeWidth":3,"point":{"filled":true,"size":50,"color":"#1f77b4"}},"encoding":{"y":{"field":"r","type":"quantitative","title":null,"scale":{"nice":false,"zero":false,"padding":12.2},"axis":{"values":[0.4,0.6,0.8,1.0],"format":".1f"}},
   "color":{"datum":"results","scale":{"domain":["results","smooth"],"range":["#1f77b4","#ff7f0e"]},
    "legend":{"title":null,"orient":"top-right","offset":8,"padding":7,"strokeColor":"#cccccc","fillColor":"#ffffff","cornerRadius":3,"labelFontSize":17,"labelColor":"#000","symbolSize":361,"symbolStrokeWidth":3,"rowPadding":6,"labelOffset":26,
     "encode":{"symbols":{"update":{"shape":{"signal":"datum.value === 'smooth' ? 'M-1,0H3' : 'M-1,0H3M1.35,0A0.35,0.35,0,1,1,0.65,0A0.35,0.35,0,1,1,1.35,0Z'"},"strokeDash":{"signal":"datum.value === 'smooth' ? [3,5] : [1,0]"},"fill":{"signal":"datum.value === 'smooth' ? 'transparent' : '#1f77b4'"}}}}}}}},
  {"mark":{"type":"line","strokeWidth":3,"strokeDash":[3,5]},"encoding":{"y":{"field":"s","type":"quantitative","title":null},"color":{"datum":"smooth"}}}
 ]},
{"data":{"name":"c"},"title":"train/dfl_loss","width":191,"height":269,
 "encoding":{"x":{"field":"x","type":"quantitative","title":null,"scale":{"nice":false,"zero":false,"padding":8.7},"axis":{"values":[0,50,100],"format":"d"}}},
 "layer":[
  {"mark":{"type":"line","color":"#1f77b4","strokeWidth":3,"point":{"filled":true,"size":50,"color":"#1f77b4"}},"encoding":{"y":{"field":"r","type":"quantitative","title":null,"scale":{"nice":false,"zero":false,"padding":12.2},"axis":{"values":[0.85,0.9,0.95,1.0],"format":".2f"}}}},
  {"mark":{"type":"line","color":"#ff7f0e","strokeWidth":3,"strokeDash":[3,5]},"encoding":{"y":{"field":"s","type":"quantitative","title":null}}}
 ]},
{"data":{"name":"d"},"title":"metrics/precision(B)","width":191,"height":269,
 "encoding":{"x":{"field":"x","type":"quantitative","title":null,"scale":{"nice":false,"zero":false,"padding":8.7},"axis":{"values":[0,50,100],"format":"d"}}},
 "layer":[
  {"mark":{"type":"line","color":"#1f77b4","strokeWidth":3,"point":{"filled":true,"size":50,"color":"#1f77b4"}},"encoding":{"y":{"field":"r","type":"quantitative","title":null,"scale":{"nice":false,"zero":false,"padding":12.2},"axis":{"values":[0.65,0.7,0.75,0.8],"format":".2f"}}}},
  {"mark":{"type":"line","color":"#ff7f0e","strokeWidth":3,"strokeDash":[3,5]},"encoding":{"y":{"field":"s","type":"quantitative","title":null}}}
 ]},
{"data":{"name":"e"},"title":"metrics/recall(B)","width":191,"height":269,
 "encoding":{"x":{"field":"x","type":"quantitative","title":null,"scale":{"nice":false,"zero":false,"padding":8.7},"axis":{"values":[0,50,100],"format":"d"}}},
 "layer":[
  {"mark":{"type":"line","color":"#1f77b4","strokeWidth":3,"point":{"filled":true,"size":50,"color":"#1f77b4"}},"encoding":{"y":{"field":"r","type":"quantitative","title":null,"scale":{"nice":false,"zero":false,"padding":12.2},"axis":{"values":[0.5,0.55,0.6,0.65],"format":".2f"}}}},
  {"mark":{"type":"line","color":"#ff7f0e","strokeWidth":3,"strokeDash":[3,5]},"encoding":{"y":{"field":"s","type":"quantitative","title":null}}}
 ]},
{"data":{"name":"f"},"title":"val/box_loss","width":191,"height":269,
 "encoding":{"x":{"field":"x","type":"quantitative","title":null,"scale":{"nice":false,"zero":false,"padding":8.7},"axis":{"values":[0,50,100],"format":"d"}}},
 "layer":[
  {"mark":{"type":"line","color":"#1f77b4","strokeWidth":3,"point":{"filled":true,"size":50,"color":"#1f77b4"}},"encoding":{"y":{"field":"r","type":"quantitative","title":null,"scale":{"nice":false,"zero":false,"padding":12.2},"axis":{"values":[0.8,0.85,0.9,0.95,1.0,1.05],"format":".2f"}}}},
  {"mark":{"type":"line","color":"#ff7f0e","strokeWidth":3,"strokeDash":[3,5]},"encoding":{"y":{"field":"s","type":"quantitative","title":null}}}
 ]},
{"data":{"name":"g"},"title":"val/cls_loss","width":191,"height":269,
 "encoding":{"x":{"field":"x","type":"quantitative","title":null,"scale":{"nice":false,"zero":false,"padding":8.7},"axis":{"values":[0,50,100],"format":"d"}}},
 "layer":[
  {"mark":{"type":"line","color":"#1f77b4","strokeWidth":3,"point":{"filled":true,"size":50,"color":"#1f77b4"}},"encoding":{"y":{"field":"r","type":"quantitative","title":null,"scale":{"nice":false,"zero":false,"padding":12.2},"axis":{"values":[0.5,0.6,0.7,0.8],"format":".1f"}}}},
  {"mark":{"type":"line","color":"#ff7f0e","strokeWidth":3,"strokeDash":[3,5]},"encoding":{"y":{"field":"s","type":"quantitative","title":null}}}
 ]},
{"data":{"name":"h"},"title":"val/dfl_loss","width":191,"height":269,
 "encoding":{"x":{"field":"x","type":"quantitative","title":null,"scale":{"nice":false,"zero":false,"padding":8.7},"axis":{"values":[0,50,100],"format":"d"}}},
 "layer":[
  {"mark":{"type":"line","color":"#1f77b4","strokeWidth":3,"point":{"filled":true,"size":50,"color":"#1f77b4"}},"encoding":{"y":{"field":"r","type":"quantitative","title":null,"scale":{"nice":false,"zero":false,"padding":12.2},"axis":{"values":[0.88,0.9,0.92,0.94,0.96,0.98],"format":".2f"}}}},
  {"mark":{"type":"line","color":"#ff7f0e","strokeWidth":3,"strokeDash":[3,5]},"encoding":{"y":{"field":"s","type":"quantitative","title":null}}}
 ]},
{"data":{"name":"i"},"title":"metrics/mAP50(B)","width":191,"height":269,
 "encoding":{"x":{"field":"x","type":"quantitative","title":null,"scale":{"nice":false,"zero":false,"padding":8.7},"axis":{"values":[0,50,100],"format":"d"}}},
 "layer":[
  {"mark":{"type":"line","color":"#1f77b4","strokeWidth":3,"point":{"filled":true,"size":50,"color":"#1f77b4"}},"encoding":{"y":{"field":"r","type":"quantitative","title":null,"scale":{"nice":false,"zero":false,"padding":12.2},"axis":{"values":[0.55,0.6,0.65,0.7],"format":".2f"}}}},
  {"mark":{"type":"line","color":"#ff7f0e","strokeWidth":3,"strokeDash":[3,5]},"encoding":{"y":{"field":"s","type":"quantitative","title":null}}}
 ]},
{"data":{"name":"j"},"title":"metrics/mAP50-95(B)","width":191,"height":269,
 "encoding":{"x":{"field":"x","type":"quantitative","title":null,"scale":{"nice":false,"zero":false,"padding":8.7},"axis":{"values":[0,50,100],"format":"d"}}},
 "layer":[
  {"mark":{"type":"line","color":"#1f77b4","strokeWidth":3,"point":{"filled":true,"size":50,"color":"#1f77b4"}},"encoding":{"y":{"field":"r","type":"quantitative","title":null,"scale":{"nice":false,"zero":false,"padding":12.2},"axis":{"values":[0.325,0.35,0.375,0.4,0.425,0.45,0.475],"format":".3f"}}}},
  {"mark":{"type":"line","color":"#ff7f0e","strokeWidth":3,"strokeDash":[3,5]},"encoding":{"y":{"field":"s","type":"quantitative","title":null}}}
 ]}
]
}
